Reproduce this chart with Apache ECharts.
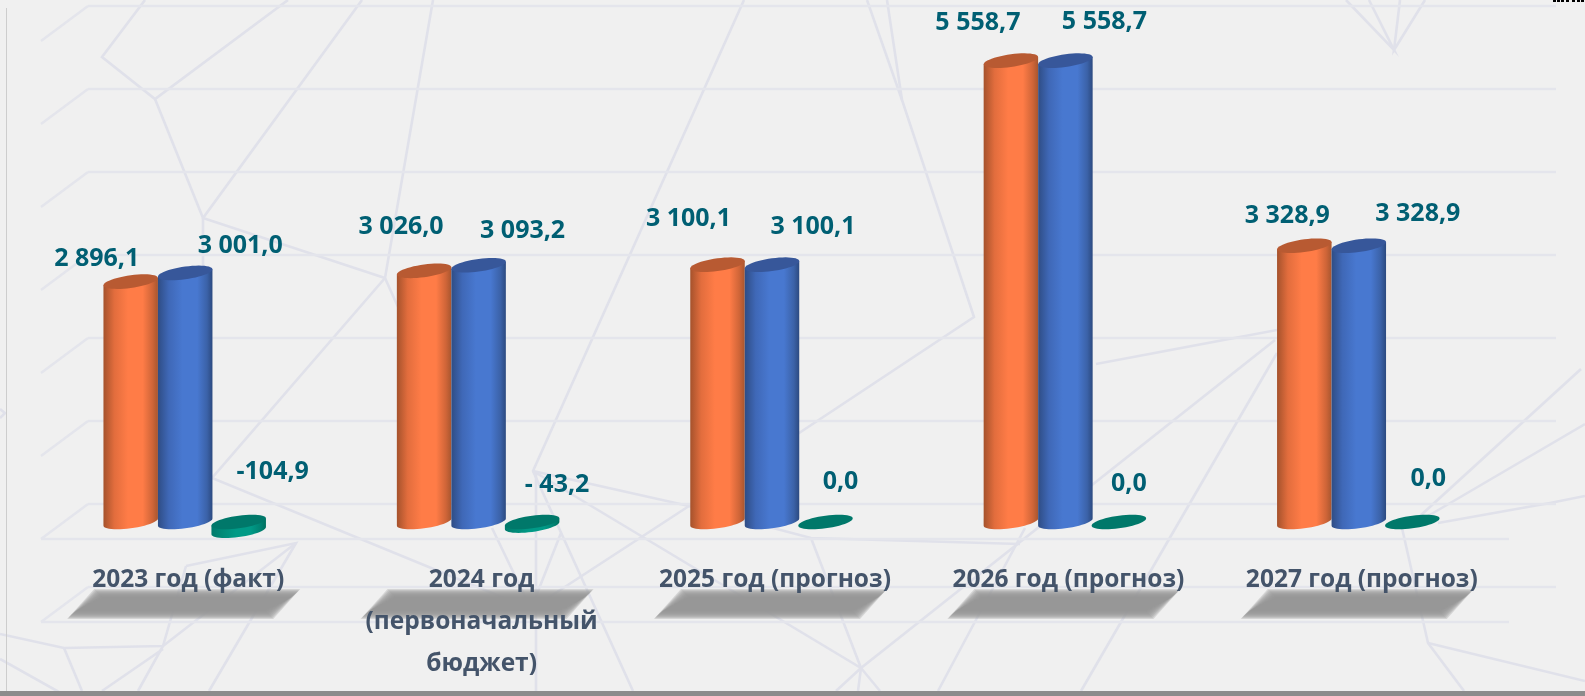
<!DOCTYPE html>
<html>
<head>
<meta charset="utf-8">
<script src="https://cdn.jsdelivr.net/npm/echarts@6/dist/echarts.min.js"></script>
<style>
html, body { margin: 0; padding: 0; background: #f0f0f0; }
#chart { width: 1585px; height: 696px; }
</style>
</head>
<body>
<div id="chart"></div>
<script>
// данные
var categories = ['2023 год (факт)', '2024 год\n(первоначальный\nбюджет)', '2025 год (прогноз)', '2026 год (прогноз)', '2027 год (прогноз)'];
var incomeValues = [2896.1, 3026.0, 3100.1, 5558.7, 3328.9];
var expenseValues = [3001.0, 3093.2, 3100.1, 5558.7, 3328.9];
var deficitValues = [-104.9, -43.2, 0, 0, 0];
var incomeLabels = ['2 896,1', '3 026,0', '3 100,1', '5 558,7', '3 328,9'];
var expenseLabels = ['3 001,0', '3 093,2', '3 100,1', '5 558,7', '3 328,9'];
var deficitLabels = ['-104,9', '- 43,2', '0,0', '0,0', '0,0'];
var wallLevels = [-1000, 0, 1000, 2000, 3000, 4000, 5000, 6000];

// сдвиг подписей относительно верха столбика
var incomeNudge = [[-34, -24], [-23, -45], [-29, -47], [-33, -39], [-17, -31]];
var expenseNudge = [[55, -28], [44, -35], [41, -39], [39, -40], [59, -33]];
var deficitNudge = [[34, -51], [25, -38], [15, -41], [10, -39], [16, -44]];

// фоновая сетка-паутина
var netLines = [
	[[145, 0], [102, 57], [155, 99], [288, 0]],
	[[155, 99], [203, 218], [362, 0]],
	[[203, 218], [385, 278], [433, 0]],
	[[203, 218], [203, 267]],
	[[385, 278], [398, 307]],
	[[385, 278], [212, 478], [531, 609]],
	[[744, 0], [533, 471], [633, 691]],
	[[536, 471], [536, 691]],
	[[492, 528], [531, 609], [561, 533]],
	[[531, 609], [689, 506], [974, 317], [902, 100], [887, 0]],
	[[867, 0], [902, 100]],
	[[533, 471], [861, 668], [811, 538]],
	[[533, 471], [689, 506], [811, 538], [1020, 544]],
	[[861, 668], [1275, 340]],
	[[938, 691], [1025, 528]],
	[[861, 668], [836, 691]],
	[[861, 668], [858, 691]],
	[[861, 668], [880, 691]],
	[[1096, 364], [1277, 330]],
	[[1277, 353], [1081, 691]],
	[[1402, 528], [1428, 643], [1464, 691]],
	[[1428, 643], [1585, 681]],
	[[1420, 516], [1581, 369]],
	[[1428, 516], [1585, 424]],
	[[1438, 523], [1550, 503], [1585, 496]],
	[[1346, 0], [1394, 50], [1369, 0]],
	[[1400, 0], [1394, 50], [1425, 0]],
	[[186, 566], [296, 543], [209, 691]],
	[[186, 566], [163, 646], [138, 691]],
	[[296, 543], [163, 646], [64, 648], [0, 634]],
	[[64, 648], [82, 691]],
	[[163, 649], [102, 691]],
	[[0, 659], [66, 696]],
	[[0, 409], [5, 413], [0, 418]]
];

var labelFont = '"Open Sans", "Noto Sans", sans-serif';
var tilt = -8 * Math.PI / 180;
var radiusX = 27.5;
var radiusY = 6.3;
var wallShift = [-47, 35];

// точки половины наклонного эллипса, от правого края к левому через низ
function halfEllipse(cx, cy) {
	var t0 = Math.atan(-(radiusY * Math.sin(tilt)) / (radiusX * Math.cos(tilt)));
	var pts = [];
	for (var k = 0; k <= 24; k++) {
		var t = t0 + Math.PI * k / 24;
		pts.push([
			cx + radiusX * Math.cos(t) * Math.cos(tilt) - radiusY * Math.sin(t) * Math.sin(tilt),
			cy + radiusX * Math.cos(t) * Math.sin(tilt) + radiusY * Math.sin(t) * Math.cos(tilt)
		]);
	}
	return pts;
}

function bodyFill(edgeL, mid, bright, mid2, edgeR) {
	return new echarts.graphic.LinearGradient(0, 0, 1, 0, [
		{ offset: 0, color: edgeL },
		{ offset: 0.2, color: mid },
		{ offset: 0.45, color: bright },
		{ offset: 0.72, color: bright },
		{ offset: 0.9, color: mid2 },
		{ offset: 1, color: edgeR }
	]);
}

// цилиндр: тело, крышка и подпись
function cylinderSeries(name, values, labels, nudge, offsetX, fill, capColor) {
	return {
		name: name,
		type: 'custom',
		xAxisIndex: 0,
		yAxisIndex: 0,
		z: 3,
		clip: false,
		data: values.map(function(v, i) {
			return [i, v];
		}),
		encode: { x: 0, y: 1 },
		renderItem: function(params, api) {
			var i = api.value(0);
			var v = api.value(1);
			var top = api.coord([i, Math.max(v, 0)]);
			var bottom = api.coord([i, Math.min(v, 0)]);
			var cx = top[0] + offsetX;
			var capPts = halfEllipse(cx, top[1]);
			var lower = halfEllipse(cx, bottom[1]);
			var upperFlip = halfEllipse(cx, top[1]);
			var bodyPts = lower.concat([upperFlip[upperFlip.length - 1], upperFlip[0]]);
			// вторая половина крышки: та же дуга, отражённая через центр
			var capFull = capPts.concat(capPts.map(function(p) {
				return [2 * cx - p[0], 2 * top[1] - p[1]];
			}));
			var children = [];
			if (bottom[1] - top[1] > 0.5) {
				children.push({
					type: 'polygon',
					shape: { points: bodyPts },
					style: { fill: fill }
				});
			}
			children.push({
				type: 'polygon',
				shape: { points: capFull },
				style: { fill: capColor }
			});
			children.push({
				type: 'text',
				z2: 10,
				style: {
					text: labels[i],
					x: cx + nudge[i][0],
					y: top[1] + nudge[i][1] + 1,
					align: 'center',
					verticalAlign: 'middle',
					fill: '#005f73',
					font: '700 25px ' + labelFont
				}
			});
			return { type: 'group', children: children };
		}
	};
}

var netElements = netLines.map(function(pts) {
	return {
		type: 'polyline',
		silent: true,
		z: -10,
		shape: { points: pts },
		style: { stroke: '#e0e1ea', lineWidth: 2.6, fill: null }
	};
});
var frameElements = [
	{ type: 'rect', silent: true, z: 20, shape: { x: 0, y: 691, width: 1585, height: 5 }, style: { fill: '#8c8c8c' } },
	{ type: 'rect', silent: true, z: 20, shape: { x: 6, y: 8, width: 1, height: 683 }, style: { fill: '#cdcdcd' } }
];
[1553, 1557, 1561, 1566, 1572, 1577, 1581].forEach(function(x) {
	frameElements.push({ type: 'rect', silent: true, z: 20, shape: { x: x, y: 0, width: 3, height: 2 }, style: { fill: '#000' } });
});

var chart = echarts.init(document.getElementById('chart'));
var option = {
	animation: false,
	backgroundColor: '#f0f0f0',
	graphic: { elements: netElements.concat(frameElements) },
	grid: [
		// столбики: ноль посередине глубины пола
		{ left: 41.5, width: 1467, top: 24, height: 581, outerBoundsMode: 'none' },
		// задняя стенка
		{ left: 88, width: 1468, top: 6, height: 581, outerBoundsMode: 'none' }
	],
	xAxis: [{
		type: 'category',
		gridIndex: 0,
		data: categories,
		z: 5,
		axisLine: { show: false },
		axisTick: { show: false },
		axisLabel: {
			interval: 0,
			margin: -46,
			color: '#44546a',
			fontFamily: labelFont,
			fontWeight: 700,
			fontSize: 24.5,
			lineHeight: 42,
			verticalAlign: 'top'
		}
	}, {
		type: 'value',
		gridIndex: 1,
		min: 0,
		max: 1,
		show: false
	}],
	yAxis: [{
		type: 'value',
		gridIndex: 0,
		min: -1000,
		max: 6000,
		show: false
	}, {
		type: 'value',
		gridIndex: 1,
		min: -1000,
		max: 6000,
		interval: 1000,
		axisLine: { show: false },
		axisTick: { show: false },
		axisLabel: { show: false },
		splitLine: { lineStyle: { color: '#e4e5ec', width: 2.4 } }
	}],
	series: [
		{
			// боковая стенка и пол
			type: 'custom',
			xAxisIndex: 1,
			yAxisIndex: 1,
			z: 1,
			clip: false,
			silent: true,
			data: wallLevels.map(function(v) {
				return [0, v];
			}),
			encode: { x: 0, y: 1 },
			renderItem: function(params, api) {
				var lvl = api.value(1);
				var back = api.coord([0, lvl]);
				var backEnd = api.coord([1, lvl]);
				var lineStyle = { stroke: '#e4e5ec', lineWidth: 2.4 };
				var kids = [{
					type: 'line',
					shape: { x1: back[0], y1: back[1], x2: back[0] + wallShift[0], y2: back[1] + wallShift[1] },
					style: lineStyle
				}];
				if (lvl <= 0) {
					kids.push({
						type: 'line',
						shape: { x1: back[0] + wallShift[0], y1: back[1] + wallShift[1], x2: backEnd[0] + wallShift[0], y2: backEnd[1] + wallShift[1] },
						style: lineStyle
					});
				}
				return { type: 'group', children: kids };
			}
		},
		{
			// тени под подписями: размытие набрано слоями
			type: 'custom',
			xAxisIndex: 0,
			yAxisIndex: 0,
			z: 2,
			clip: false,
			silent: true,
			data: categories.map(function(c, i) {
				return [i, 0];
			}),
			encode: { x: 0, y: 1 },
			renderItem: function(params, api) {
				var p = api.coord([api.value(0), 0]);
				var kids = [];
				for (var e = 4; e >= -4; e -= 1) {
					kids.push({
						type: 'polygon',
						shape: {
							points: [
								[p[0] - 90 - e, p[1] + 71 - e],
								[p[0] + 108 + e, p[1] + 71 - e],
								[p[0] + 81 + e, p[1] + 93 + e],
								[p[0] - 117 - e, p[1] + 93 + e]
							]
						},
						style: { fill: 'rgba(150,150,150,0.3)' }
					});
				}
				return { type: 'group', children: kids };
			}
		},
		cylinderSeries('Доходы', incomeValues, incomeLabels, incomeNudge, -57.5,
			bodyFill('#a5522c', '#e26d3d', '#ff7c47', '#cf6538', '#a8562f'), '#b85a32'),
		cylinderSeries('Расходы', expenseValues, expenseLabels, expenseNudge, -3,
			bodyFill('#2f4d85', '#3f68b7', '#4878d0', '#3b62a8', '#2c4a80'), '#37579a'),
		cylinderSeries('Дефицит', deficitValues, deficitLabels, deficitNudge, 50.5,
			bodyFill('#007a6c', '#008a78', '#009a87', '#008272', '#00705f'), '#00786a')
	]
};
chart.setOption(option);
</script>
</body>
</html>
